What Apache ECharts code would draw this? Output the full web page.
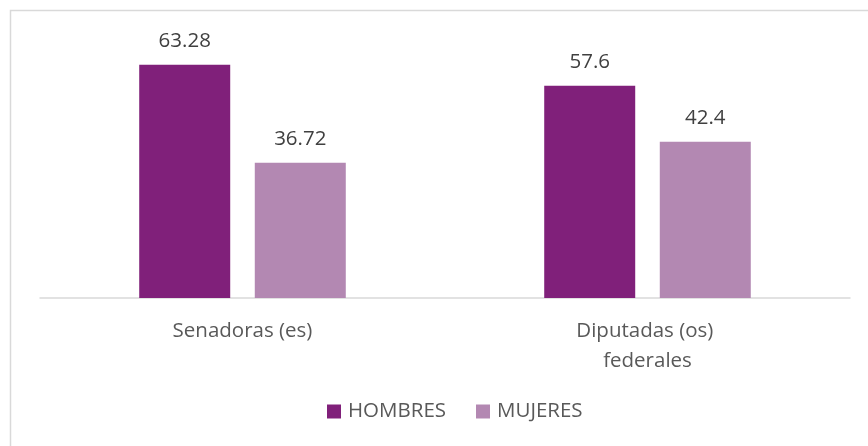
<!DOCTYPE html>
<html>
<head>
<meta charset="utf-8">
<script src="https://cdn.jsdelivr.net/npm/echarts@6/dist/echarts.min.js"></script>
<style>
  html, body { margin: 0; padding: 0; background: #fff; }
  #chart { width: 868px; height: 446px; }
</style>
</head>
<body>
<div id="chart"></div>
<script>
var categories = ['Senadoras (es)', 'Diputadas (os) federales'];
var hombres = [63.28, 57.6];
var mujeres = [36.72, 42.4];

var chart = echarts.init(document.getElementById('chart'));

var labelStyle = {
    show: true,
    position: 'top',
    distance: 13,
    color: '#404040',
    fontFamily: 'Open Sans',
    fontSize: 20.5
};

var option = {
    animation: false,
    graphic: [{
        type: 'rect',
        shape: { x: 10.5, y: 10.5, width: 880, height: 460 },
        style: { fill: 'none', stroke: '#D9D9D9', lineWidth: 1.5 },
        silent: true
    }],
    grid: { left: 40, right: 18, top: 40, bottom: 148 },
    legend: {
        bottom: 19,
        left: 322,
        itemWidth: 14,
        itemHeight: 14,
        itemGap: 30,
        icon: 'rect',
        textStyle: { color: '#595959', fontFamily: 'Open Sans', fontSize: 20.5, padding: [0, 0, 0, 2] },
        data: ['HOMBRES', 'MUJERES']
    },
    xAxis: {
        type: 'category',
        data: categories,
        axisLine: { lineStyle: { color: '#D9D9D9', width: 1.5 } },
        axisTick: { show: false },
        axisLabel: {
            color: '#595959',
            fontFamily: 'Open Sans',
            fontSize: 20.5,
            margin: 18,
            lineHeight: 30,
            width: 175,
            overflow: 'break'
        }
    },
    yAxis: {
        type: 'value',
        min: 0,
        max: 70,
        show: false
    },
    series: [
        {
            name: 'HOMBRES',
            type: 'bar',
            data: hombres,
            barWidth: 91,
            barGap: '27%',
            itemStyle: { color: '#80207A' },
            label: labelStyle
        },
        {
            name: 'MUJERES',
            type: 'bar',
            data: mujeres,
            barWidth: 91,
            barGap: '27%',
            itemStyle: { color: '#B388B2' },
            label: labelStyle
        }
    ]
};

chart.setOption(option);
</script>
</body>
</html>
